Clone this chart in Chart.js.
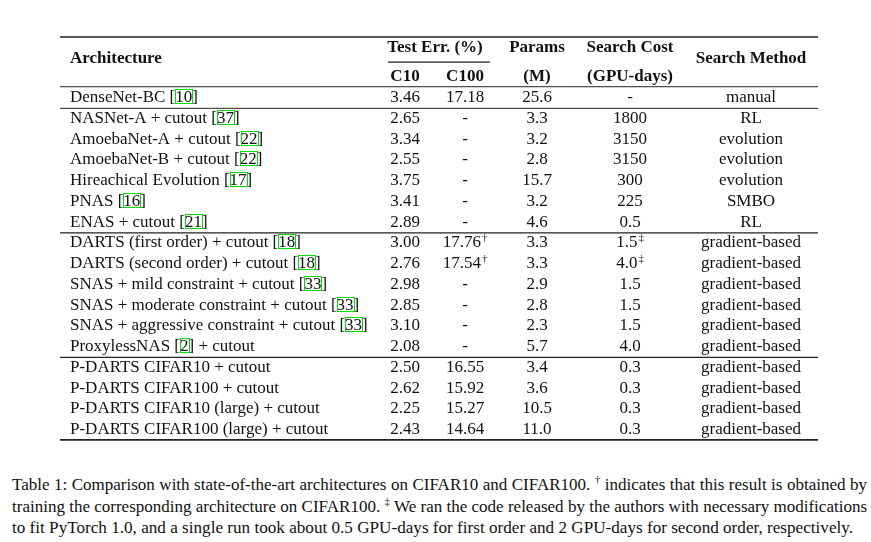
<!DOCTYPE html>
<html>
<head>
<meta charset="utf-8">
<script src="https://cdn.jsdelivr.net/npm/chart.js@4/dist/chart.umd.min.js"></script>
<style>
body{margin:0;background:#fff;width:871px;height:542px;overflow:hidden;position:relative}
#tabla{position:absolute;left:0;top:0}
.cap{position:absolute;left:12px;font:17px/20px "Liberation Serif";color:#111;white-space:nowrap;transform-origin:0 0}
sup{font-size:11px;line-height:0}
</style>
</head>
<body>
<canvas id="tabla" width="871" height="460"></canvas>
<div class="cap" style="top:475px"><span>Table 1: Comparison with state-of-the-art architectures on CIFAR10 and CIFAR100. <sup>†</sup> indicates that this result is obtained by</span></div>
<div class="cap" style="top:497px"><span>training the corresponding architecture on CIFAR100. <sup>‡</sup> We ran the code released by the authors with necessary modifications</span></div>
<div class="cap" style="top:518px"><span>to fit PyTorch 1.0, and a single run took about 0.5 GPU-days for first order and 2 GPU-days for second order, respectively.</span></div>
<script>
// datos de la tabla
const arquitecturas = ["DenseNet-BC [10]", "NASNet-A + cutout [37]", "AmoebaNet-A + cutout [22]", "AmoebaNet-B + cutout [22]",
    "Hireachical Evolution [17]", "PNAS [16]", "ENAS + cutout [21]",
    "DARTS (first order) + cutout [18]", "DARTS (second order) + cutout [18]", "SNAS + mild constraint + cutout [33]",
    "SNAS + moderate constraint + cutout [33]", "SNAS + aggressive constraint + cutout [33]", "ProxylessNAS [2] + cutout",
    "P-DARTS CIFAR10 + cutout", "P-DARTS CIFAR100 + cutout", "P-DARTS CIFAR10 (large) + cutout", "P-DARTS CIFAR100 (large) + cutout"];
const errC10 = ["3.46", "2.65", "3.34", "2.55", "3.75", "3.41", "2.89", "3.00", "2.76", "2.98", "2.85", "3.10", "2.08", "2.50", "2.62", "2.25", "2.43"];
const errC100 = ["17.18", "-", "-", "-", "-", "-", "-", "17.76†", "17.54†", "-", "-", "-", "-", "16.55", "15.92", "15.27", "14.64"];
const params = ["25.6", "3.3", "3.2", "2.8", "15.7", "3.2", "4.6", "3.3", "3.3", "2.9", "2.8", "2.3", "5.7", "3.4", "3.6", "10.5", "11.0"];
const coste = ["-", "1800", "3150", "3150", "300", "225", "0.5", "1.5‡", "4.0‡", "1.5", "1.5", "1.5", "4.0", "0.3", "0.3", "0.3", "0.3"];
const metodo = ["manual", "RL", "evolution", "evolution", "evolution", "SMBO", "RL",
    "gradient-based", "gradient-based", "gradient-based", "gradient-based", "gradient-based", "gradient-based",
    "gradient-based", "gradient-based", "gradient-based", "gradient-based"];
const cabecera1 = ["Test Err. (%)", "Params", "Search Cost"];
const cabecera2 = ["C10", "C100", "(M)", "(GPU-days)"];
const cortes = [0, 6, 12]; // filas tras las que va una linea

// posiciones (pixeles del lienzo)
const colX = [70, 405, 465, 537, 630, 751];
const filaY0 = 96.5, altoFila = 20.75, alto = 460;
const fuente = '"Liberation Serif", "Times New Roman", serif';
const tam = 17;

const columnas = [arquitecturas, errC10, errC100, params, coste, metodo];

function textoConMarca(ctx, txt, x, y) {
    let marca = "";
    if (txt.endsWith("†") || txt.endsWith("‡")) {
        marca = txt.slice(-1);
        txt = txt.slice(0, -1);
    }
    ctx.font = tam + "px " + fuente;
    let w = ctx.measureText(txt).width;
    ctx.font = "11px " + fuente;
    let wm = marca ? ctx.measureText(marca).width + 1 : 0;
    let x0 = x - (w + wm) / 2;
    ctx.font = tam + "px " + fuente;
    ctx.textAlign = "left";
    ctx.fillText(txt, x0, y);
    if (marca) {
        ctx.font = "11px " + fuente;
        ctx.fillText(marca, x0 + w + 1, y - 6);
    }
}

function arquitectura(ctx, txt, x, y) {
    // el numero de la cita va dentro de un recuadro verde
    let m = txt.match(/^(.*\[)(\d+)(\].*)$/);
    ctx.font = tam + "px " + fuente;
    ctx.textAlign = "left";
    if (!m) { ctx.fillText(txt, x, y); return; }
    let w1 = ctx.measureText(m[1]).width;
    let w2 = ctx.measureText(m[2]).width;
    ctx.fillText(m[1], x, y);
    ctx.fillText(m[2], x + w1, y);
    ctx.fillText(m[3], x + w1 + w2, y);
    ctx.save();
    ctx.strokeStyle = "#00e000";
    ctx.lineWidth = 1;
    ctx.strokeRect(Math.round(x + w1) + 0.5, Math.round(y) - 12.5, Math.round(w2), 14);
    ctx.restore();
}

const tablaPlugin = {
    id: "tabla",
    afterDatasetsDraw(chart) {
        const ctx = chart.ctx;
        const ys = chart.scales.y;
        const x1 = 60, x2 = 818;
        const base = 5.5;
        ctx.save();
        ctx.fillStyle = "#111";
        ctx.strokeStyle = "#222";
        ctx.textBaseline = "alphabetic";

        // lineas
        const linea = (fila, a, b, grosor) => {
            let py = ys.getPixelForValue(fila);
            ctx.lineWidth = grosor;
            ctx.beginPath();
            ctx.moveTo(a, py);
            ctx.lineTo(b, py);
            ctx.stroke();
        };
        linea(-2.87, x1, x2, 1.6);
        linea(-1.66, 388, 490, 1.2);
        linea(-0.47, x1, x2, 1);
        cortes.forEach(c => linea(c + 0.57, x1, x2, c == 0 ? 1 : 1.3));
        linea(arquitecturas.length - 0.45, x1, x2, 1.6);

        // cabecera
        ctx.font = "bold " + tam + "px " + fuente;
        ctx.textAlign = "left";
        let yc = ys.getPixelForValue(-1.88) + base;
        ctx.fillText("Architecture", colX[0], yc);
        ctx.textAlign = "center";
        ctx.fillText("Search Method", colX[5], yc);
        let y1 = ys.getPixelForValue(-2.39) + base;
        ctx.fillText(cabecera1[0], (colX[1] + colX[2]) / 2, y1);
        ctx.fillText(cabecera1[1], colX[3], y1);
        ctx.fillText(cabecera1[2], colX[4], y1);
        let y2 = ys.getPixelForValue(-0.99) + base;
        cabecera2.forEach((t, k) => ctx.fillText(t, colX[k + 1], y2));

        // celdas, en la posicion de cada punto
        columnas.forEach((col, k) => {
            const meta = chart.getDatasetMeta(k);
            meta.data.forEach((p, i) => {
                if (k == 0) arquitectura(ctx, col[i], p.x, p.y + base);
                else textoConMarca(ctx, col[i], p.x, p.y + base);
            });
        });
        ctx.restore();
    }
};

new Chart(document.getElementById("tabla"), {
    type: "scatter",
    data: {
        datasets: columnas.map((col, k) => ({
            label: "col" + k,
            data: col.map((v, i) => ({ x: colX[k], y: i })),
            pointRadius: 0,
            pointHoverRadius: 0
        }))
    },
    options: {
        responsive: false,
        animation: false,
        events: [],
        layout: { padding: 0 },
        scales: {
            x: { type: "linear", display: false, min: 0, max: 871 },
            y: { type: "linear", display: false, reverse: true,
                 min: -filaY0 / altoFila, max: (alto - filaY0) / altoFila }
        },
        plugins: { legend: { display: false }, tooltip: { enabled: false } }
    },
    plugins: [tablaPlugin]
});

// pie de tabla: las dos primeras lineas justificadas, la ultima al natural
const anchos = [855, 855, 841];
document.querySelectorAll(".cap").forEach((div, i) => {
    const span = div.firstElementChild;
    const w = span.getBoundingClientRect().width;
    const huecos = (span.textContent.match(/ /g) || []).length;
    if (w > anchos[i] || i == 2) {
        div.style.transform = "scaleX(" + (anchos[i] / w) + ")";
    } else {
        div.style.wordSpacing = ((anchos[i] - w) / huecos) + "px";
    }
});
</script>
</body>
</html>
